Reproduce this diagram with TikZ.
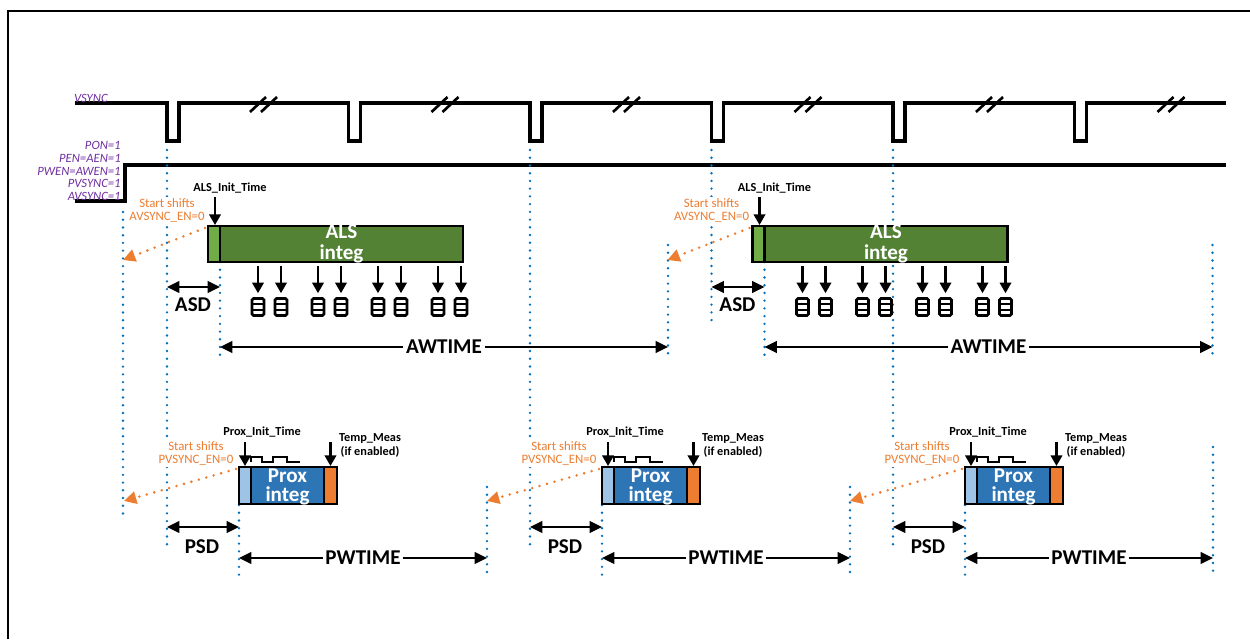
\documentclass[tikz,border=0pt]{standalone}
\usepackage{fontspec}
\setmainfont{Carlito}
\usepackage{tikz}
\usetikzlibrary{arrows.meta,positioning,calc}
\definecolor{sigpurple}{RGB}{112, 48, 160}
\definecolor{shiftorange}{RGB}{237, 125, 49}
\definecolor{gridblue}{RGB}{0, 112, 192}
\definecolor{alslight}{RGB}{112, 173, 71}
\definecolor{alsdark}{RGB}{84, 130, 53}
\definecolor{proxlight}{RGB}{157, 195, 230}
\definecolor{proxdark}{RGB}{46, 117, 182}
\tikzset{
  framerule/.style={line width=1.1pt},
  wave/.style={line width=1.8pt},
  breakmark/.style={line width=1.5pt},
  pulsetrain/.style={line width=1.3pt},
  siglabel/.style={
    text=sigpurple,
    font=\fontsize{7.2}{7.3}\selectfont\itshape,
    align=right,
    inner sep=0pt
  },
  gridline/.style={
    draw=gridblue,
    line width=1.5pt,
    line cap=round,
    dash pattern=on 0pt off 4.4pt
  },
  segbox/.style={
    draw,
    line width=1.4pt,
    inner sep=0pt,
    outer sep=0pt
  },
  alsbox/.style={segbox, fill=alsdark, minimum width=4.86cm, minimum height=0.72cm},
  alsinit/.style={segbox, fill=alslight, minimum width=0.24cm, minimum height=0.72cm},
  proxbox/.style={segbox, fill=proxdark, minimum width=1.46cm, minimum height=0.74cm},
  proxinit/.style={segbox, fill=proxlight, minimum width=0.24cm, minimum height=0.74cm},
  tempbox/.style={segbox, fill=shiftorange, minimum width=0.26cm, minimum height=0.74cm},
  intext/.style={
    text=white,
    font=\fontsize{12}{11.9}\selectfont\bfseries,
    align=center,
    inner sep=0pt
  },
  dimarrow/.style={
    {Triangle[length=7pt,width=6.5pt]}-{Triangle[length=7pt,width=6.5pt]},
    line width=1.4pt
  },
  dimlabel/.style={
    font=\fontsize{12}{14}\selectfont\bfseries,
    inner sep=1.5pt
  },
  tickarrow/.style={
    -{Triangle[length=6pt,width=6.5pt]},
    line width=1.2pt
  },
  steplabel/.style={
    font=\fontsize{7}{8}\selectfont\bfseries,
    align=center,
    inner sep=0pt
  },
  shiftlabel/.style={
    text=shiftorange,
    fill=white,
    font=\fontsize{7.3}{7.4}\selectfont,
    align=center,
    inner sep=1pt
  },
  shiftarrow/.style={
    draw=shiftorange,
    line width=1.6pt,
    line cap=round,
    dash pattern=on 0pt off 4.4pt,
    -{Triangle[length=7pt,width=7pt,fill=shiftorange]}
  },
  regicon/.style={
    draw,
    line width=1.5pt,
    rounded corners=0.8pt,
    minimum width=0.24cm,
    minimum height=0.34cm,
    inner sep=0pt,
    path picture={
      \draw[line width=1.3pt]
        ($(path picture bounding box.south west)!0.333!(path picture bounding box.north west)$) --
        ($(path picture bounding box.south east)!0.333!(path picture bounding box.north east)$)
        ($(path picture bounding box.south west)!0.667!(path picture bounding box.north west)$) --
        ($(path picture bounding box.south east)!0.667!(path picture bounding box.north east)$);
    }
  }
}

\begin{document}
\begin{tikzpicture}[x=0.02cm, y=-0.02cm]
  \useasboundingbox (0,0) rectangle (1250,639);
  \draw[framerule] (8,639) -- (8,11) -- (1250,11);

  % sync and enable signals
  \draw[wave] (75,103) foreach \n in {0,...,5} { -- ({167+181.5*\n},103) -- ++(0,38) -- ++(12,0) -- ++(0,-38) } -- (1226,103);
  \foreach \n in {0,...,5} {
    \draw[breakmark] ({250+181.5*\n},112) -- ++(16,-15) ({261+181.5*\n},112) -- ++(16,-15);
  }
  \draw[wave] (75,201) -- (125,201) -- (125,165) -- (1226,165);
  \node[siglabel, anchor=east] (vsynclbl) at (108,98) {VSYNC};
  \node[siglabel, anchor=east] (enlbl) at (121,171) {PON=1\\PEN=AEN=1\\PWEN=AWEN=1\\PVSYNC=1\\AVSYNC=1};

  % vsync reference lines
  \foreach \x/\yb [count=\i] in {167/548, 530/548, 711.5/322, 893/548} {
    \coordinate (vt\i) at (\x,150);
    \coordinate (vb\i) at (\x,\yb);
    \draw[gridline] (vt\i) -- (vb\i);
  }
  \coordinate (st0) at (123,212);
  \coordinate (sb0) at (123,520);
  \draw[gridline] (st0) -- (sb0);

  % ALS integration periods
  \foreach \p/\q in {167/1, 711.5/2} {
    \coordinate (ast\q) at ({\p+53},262);
    \coordinate (asb\q) at ({\p+53},358);
    \coordinate (aet\q) at ({\p+501},245);
    \coordinate (aeb\q) at ({\p+501},358);
    \draw[gridline] (ast\q) -- (asb\q);
    \draw[gridline] (aet\q) -- (aeb\q);

    \node[alsbox, anchor=north west] (als\q) at ({\p+53},226) {};
    \node[alsinit, anchor=north east] (alsi\q) at (als\q.north west) {};
    \node[intext] (alst\q) at (als\q.center) {ALS\\integ};

    \node[steplabel] (alsil\q) at ({\p+63},188) {ALS\_Init\_Time};
    \draw[tickarrow] ($(alsi\q.north)+(1,-29)$) -- ($(alsi\q.north)+(1,-1)$);

    \node[shiftlabel] (ash\q) at (\p,210.5) {Start shifts\\AVSYNC\_EN=0};
    \coordinate (atg\q) at ({\p-44},260);
    \draw[shiftarrow] ($(alsi\q.north west)+(-3,2)$) -- (atg\q);

    \foreach \d [count=\j] in {91,114,151,174,211,234,271,294} {
      \node[regicon] (reg\q\j) at ({\p+\d},307) {};
      \draw[tickarrow] ($(reg\q\j.north)+(0,-31)$) -- ($(reg\q\j.north)+(0,-4)$);
    }

    \coordinate (asda\q) at (\p,287);
    \coordinate (asdb\q) at ({\p+53},287);
    \draw[dimarrow] (asda\q) -- (asdb\q);
    \node[dimlabel] (asd\q) at ({\p+26},305) {ASD};

    \coordinate (awa\q) at ({\p+53},347);
    \coordinate (awb\q) at ({\p+501},347);
    \draw[dimarrow] (awa\q) -- (awb\q) node[dimlabel, midway, fill=white] (awt\q) {AWTIME};
  }

  % proximity integration periods
  \foreach \p/\q/\ey in {167/1/487, 530/2/487, 893/3/447} {
    \coordinate (pst\q) at ({\p+72},505);
    \coordinate (psb\q) at ({\p+72},578);
    \coordinate (pet\q) at ({\p+320},\ey);
    \coordinate (peb\q) at ({\p+320},578);
    \draw[gridline] (pst\q) -- (psb\q);
    \draw[gridline] (pet\q) -- (peb\q);

    \node[proxinit, anchor=north west] (pxi\q) at ({\p+72},467) {};
    \node[proxbox, anchor=north west] (px\q) at (pxi\q.north east) {};
    \node[tempbox, anchor=north west] (tm\q) at (px\q.north east) {};
    \node[intext, font=\fontsize{12}{10.8}\selectfont\bfseries] (pxt\q) at ($(px\q.center)+(0,1)$) {Prox\\integ};

    \node[steplabel] (pxil\q) at ({\p+95},432) {Prox\_Init\_Time};
    \draw[tickarrow] ($(pxi\q.north)+(0,-25)$) -- ($(pxi\q.north)+(0,-1)$);
    \draw[pulsetrain] ({\p+84},462) -- ++(0,-5) -- ++(11,0) -- ++(0,5) -- ++(11,0) -- ++(0,-5) -- ++(14,0) -- ++(0,5) -- ++(13,0);

    \node[steplabel] (tml\q) at ({\p+203},445) {Temp\_Meas\\(if enabled)};
    \draw[tickarrow] ($(tm\q.north)+(0,-25)$) -- ($(tm\q.north)+(0,-1)$);

    \node[shiftlabel] (psh\q) at ({\p+29},453) {Start shifts\\PVSYNC\_EN=0};
    \coordinate (ptg\q) at ({\p-43},501);
    \draw[shiftarrow] ($(pxi\q.north west)+(-3,2)$) -- (ptg\q);

    \coordinate (psda\q) at (\p,527);
    \coordinate (psdb\q) at ({\p+72},527);
    \draw[dimarrow] (psda\q) -- (psdb\q);
    \node[dimlabel] (psd\q) at ({\p+35},547) {PSD};

    \coordinate (pwa\q) at ({\p+72},558);
    \coordinate (pwb\q) at ({\p+320},558);
    \draw[dimarrow] (pwa\q) -- (pwb\q) node[dimlabel, midway, fill=white] (pwt\q) {PWTIME};
  }
\end{tikzpicture}
\end{document}
